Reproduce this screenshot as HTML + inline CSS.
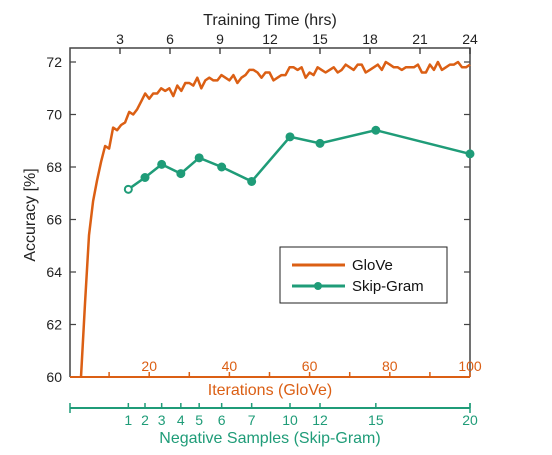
<!DOCTYPE html>
<html><head><meta charset="utf-8"><style>
body{margin:0;background:#fff;}
svg{display:block;font-family:"Liberation Sans",sans-serif;}
</style></head><body>
<svg id="c" width="552" height="455"></svg>
<script>
const gloveStart = 3;
const gloveVals = [60,62.8,65.4,66.7,67.5,68.2,68.8,68.7,69.5,69.4,69.6,69.7,70.1,70.0,70.2,70.5,70.8,70.6,70.8,70.8,71.0,70.9,71.0,70.7,71.1,70.9,71.2,71.2,71.1,71.4,71.0,71.3,71.4,71.3,71.3,71.5,71.4,71.3,71.5,71.2,71.4,71.5,71.7,71.7,71.6,71.4,71.6,71.6,71.3,71.4,71.5,71.5,71.8,71.8,71.7,71.8,71.4,71.6,71.5,71.8,71.7,71.6,71.7,71.8,71.6,71.7,71.9,71.8,71.7,71.9,71.9,71.6,71.7,71.8,71.9,71.7,72.0,71.9,71.8,71.8,71.7,71.8,71.8,71.8,71.9,71.6,71.6,71.9,71.7,72.0,71.7,71.8,71.9,71.9,72.0,71.8,71.8,71.9];
const sgSamples = [1,2,3,4,5,6,7,10,12,15,20];
const sgHours = [3.5,4.5,5.5,6.65,7.75,9.1,10.9,13.2,15.0,18.35,24];
const sgVals = [67.15,67.6,68.1,67.75,68.35,68.0,67.45,69.15,68.9,69.4,68.5];
const yTicks = [60,62,64,66,68,70,72];
const hourTicks = [3,6,9,12,15,18,21,24];
const iterLabels = [20,40,60,80,100];

const L=70,R=470,T=48,B=377;
const ORG='#db5f14', TEAL='#1f9c78';
const y = v => B - (v-60)/12*(B-62);
const xh = h => L + h/24*(R-L);
const xi = i => 69 + i*(R-69)/100;
const svg=document.getElementById('c');
const NS='http://www.w3.org/2000/svg';
function mk(tag,attrs,parent){const e=document.createElementNS(NS,tag);for(const k in attrs)e.setAttribute(k,attrs[k]);(parent||svg).appendChild(e);return e;}
function txt(s,attrs){const e=mk('text',attrs);e.textContent=s;return e;}

// frame
let f=mk('path',{d:`M${L},${B} V${T} H${R} V${B}`,fill:'none',stroke:'#444','stroke-width':1.5});


// y ticks
yTicks.forEach(v=>{
  let t=mk('path',{d:`M${L},${y(v)}h6M${R},${y(v)}h-6`,stroke:'#444','stroke-width':1.2});
  
  
  let l=txt(v,{x:62,y:y(v)+5,'text-anchor':'end','font-size':14,fill:'#222'});
  
  
});
// top ticks
hourTicks.forEach(h=>{
  let t=mk('path',{d:`M${xh(h)},${T}v6`,stroke:'#222','stroke-width':1.2});
  
  
  let l=txt(h,{x:xh(h),y:T-4,'text-anchor':'middle','font-size':14,fill:'#222'});
  
  
});
let tt=txt('Training Time (hrs)',{x:270,y:25,'text-anchor':'middle','font-size':16,fill:'#222'});


let yt=txt('Accuracy [%]',{x:0,y:0,'text-anchor':'middle','font-size':16,fill:'#222',transform:'translate(35,215) rotate(-90)'});



// bottom GloVe axis
let ba=mk('line',{x1:L,x2:R,y1:B,y2:B,stroke:ORG,'stroke-width':2});


for(let i=10;i<=100;i+=10){
  let t=mk('path',{d:`M${xi(i)},${B}v-5`,stroke:ORG,'stroke-width':1.5});
  
  
}
iterLabels.forEach(i=>{
  let l=txt(i,{x:xi(i),y:371,'text-anchor':'middle','font-size':14,fill:ORG});
  
  
});
let it=txt('Iterations (GloVe)',{x:270,y:395,'text-anchor':'middle','font-size':16,fill:ORG});



// neg samples axis
let na=mk('line',{x1:L,x2:R,y1:408,y2:408,stroke:TEAL,'stroke-width':2});


mk('path',{d:`M${L},403v10M${R},403v10`,stroke:TEAL,'stroke-width':1.5});
sgSamples.forEach((s,k)=>{
  let t=mk('path',{d:`M${xh(sgHours[k])},408v-5`,stroke:TEAL,'stroke-width':1.5});
  
  
  let l=txt(s,{x:xh(sgHours[k]),y:425,'text-anchor':'middle','font-size':14,fill:TEAL});
  
  
});
let nt=txt('Negative Samples (Skip-Gram)',{x:270,y:443,'text-anchor':'middle','font-size':16,fill:TEAL});



// GloVe line
let gp=gloveVals.map((v,k)=>`${k?'L':'M'}${xi(gloveStart+k).toFixed(1)},${y(v).toFixed(1)}`).join('');
let gl=mk('path',{d:gp,fill:'none',stroke:ORG,'stroke-width':2.5,'stroke-linejoin':'round'});



// Skip-gram
let sp=sgVals.map((v,k)=>`${k?'L':'M'}${xh(sgHours[k]).toFixed(1)},${y(v).toFixed(1)}`).join('');
let sl=mk('path',{d:sp,fill:'none',stroke:TEAL,'stroke-width':2.5});


sgVals.forEach((v,k)=>{
  let c=mk('circle',{cx:xh(sgHours[k]),cy:y(v),r:3.5,fill:k===0?'#fff':TEAL,stroke:TEAL,'stroke-width':2});
  
  
});

// legend
let lg=mk('rect',{x:280,y:247,width:167,height:56,fill:'#fff',stroke:'#222','stroke-width':1});


let l1=mk('line',{x1:292,x2:345,y1:265,y2:265,stroke:ORG,'stroke-width':3});


let t1=txt('GloVe',{x:352,y:270,'font-size':15,fill:'#111'});


let l2=mk('line',{x1:292,x2:345,y1:286,y2:286,stroke:TEAL,'stroke-width':3});


let c2=mk('circle',{cx:318,cy:286,r:4,fill:TEAL});


let t2=txt('Skip-Gram',{x:352,y:291,'font-size':15,fill:'#111'});


</script>
</body></html>
